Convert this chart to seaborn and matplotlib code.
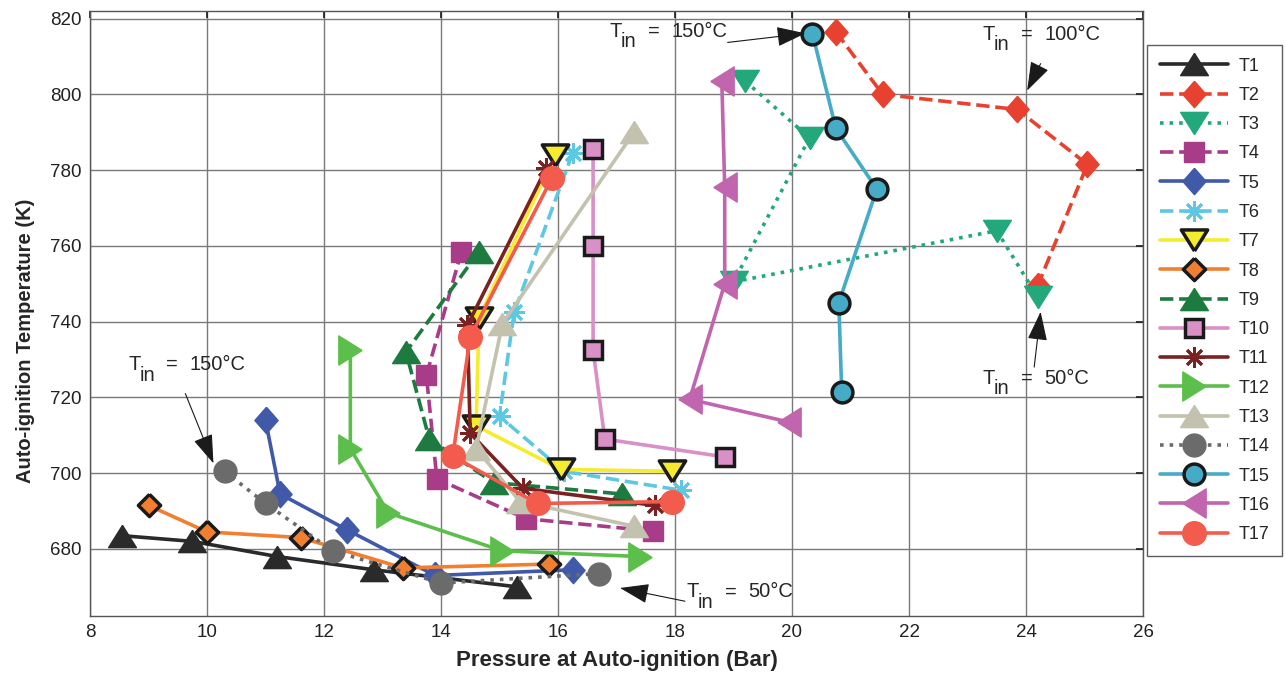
import matplotlib
matplotlib.use('Agg')
import matplotlib.pyplot as plt
import seaborn as sns

# pressure at auto-ignition (bar) / auto-ignition temperature (K) for each test
labels = ['T1', 'T2', 'T3', 'T4', 'T5', 'T6', 'T7', 'T8', 'T9',
          'T10', 'T11', 'T12', 'T13', 'T14', 'T15', 'T16', 'T17']

p1 = [8.55, 9.75, 11.2, 12.85, 15.3]
k1 = [683.5, 682, 678, 674.5, 670]
p2 = [20.75, 21.55, 23.85, 25.05, 24.2]
k2 = [816.5, 800, 796, 781.5, 749.5]
p3 = [19.2, 20.3, 19.0, 23.5, 24.2]
k3 = [803.5, 788.5, 750.5, 764, 746.5]
p4 = [14.35, 13.75, 13.93, 15.45, 17.63]
k4 = [758.5, 725.8, 698.5, 688, 684.7]
p5 = [11.0, 11.25, 12.4, 13.9, 16.25]
k5 = [714, 694.5, 685, 673, 674.5]
p6 = [16.25, 15.25, 15.0, 16.1, 18.1]
k6 = [784.5, 742.5, 715, 700.5, 695.5]
p7 = [15.95, 14.65, 14.6, 16.05, 17.95]
k7 = [784, 741, 712.5, 701, 700.5]
p8 = [9.0, 10.0, 11.6, 13.35, 15.85]
k8 = [691.5, 684.5, 683, 675, 676]
p9 = [14.65, 13.4, 13.8, 14.9, 17.1]
k9 = [758.5, 732, 709, 697.5, 694.5]
p10 = [16.6, 16.6, 16.6, 16.8, 18.85]
k10 = [785.5, 760, 732.5, 709, 704.3]
p11 = [15.8, 14.45, 14.5, 15.4, 17.65]
k11 = [780.5, 739, 710.5, 696, 691.5]
p12 = [12.45, 12.45, 13.1, 15.05, 17.4]
k12 = [732.5, 706.5, 689.5, 679.5, 678]
p13 = [17.3, 15.05, 14.6, 15.35, 17.3]
k13 = [790, 739.5, 706.5, 692.5, 686]
p14 = [10.3, 11.0, 12.15, 14.0, 16.7]
k14 = [700.5, 692, 679.5, 671, 673.5]
p15 = [20.35, 20.75, 21.45, 20.8, 20.85]
k15 = [816, 791, 775, 745, 721.5]
p16 = [18.8, 18.85, 18.85, 18.25, 19.95]
k16 = [803.5, 775.5, 750, 719.5, 713.5]
p17 = [15.9, 14.5, 14.2, 15.65, 17.95]
k17 = [778, 736, 704.5, 692, 692.5]

pressures = [p1, p2, p3, p4, p5, p6, p7, p8, p9, p10, p11, p12, p13, p14, p15, p16, p17]
temps = [k1, k2, k3, k4, k5, k6, k7, k8, k9, k10, k11, k12, k13, k14, k15, k16, k17]

# matlab-like wide triangles and diamonds
tri_up = [(0, 0.8), (-1, -0.8), (1, -0.8), (0, 0.8)]
tri_dn = [(0, -0.8), (-1, 0.8), (1, 0.8), (0, -0.8)]
tri_r = [(0.8, 0), (-0.8, 1), (-0.8, -1), (0.8, 0)]
tri_l = [(-0.8, 0), (0.8, 1), (0.8, -1), (-0.8, 0)]
diam = [(0, 1), (0.88, 0), (0, -1), (-0.88, 0), (0, 1)]
diam_sq = [(0, 1), (1, 0), (0, -1), (-1, 0), (0, 1)]
ast = (8, 2, 0)

# marker, colour, linestyle, edge colour, marker size
styles = [
    (tri_up, '#2a2a2a', '-', None, 20),
    (diam, '#e9412f', '--', None, 19),
    (tri_dn, '#22a87b', ':', None, 20),
    ('s', '#a83c88', '--', None, 14.5),
    (diam, '#4059a9', '-', None, 19),
    (ast, '#5ec8e2', '--', None, 15),
    (tri_dn, '#f5ec2d', '-', 'k', 19),
    (diam_sq, '#f27f30', '-', 'k', 16),
    (tri_up, '#1e7b40', '--', None, 20),
    ('s', '#d990c7', '-', 'k', 13),
    (ast, '#7a2222', '-', None, 15),
    (tri_r, '#5dbf4b', '-', None, 21),
    (tri_up, '#c3c2ae', '-', None, 20),
    ('o', '#6b6b6b', ':', None, 16.5),
    ('o', '#46abc6', '-', 'k', 15),
    (tri_l, '#c165ae', '-', None, 21),
    ('o', '#f35b4c', '-', None, 17),
]

sns.set_theme(style='whitegrid')
plt.rcParams['font.family'] = ['Liberation Sans', 'DejaVu Sans']

fig, ax = plt.subplots(figsize=(12.86, 6.73), dpi=100)
fig.subplots_adjust(left=90/1286, right=1143/1286, bottom=57/673, top=662/673)

for lab, px, tk, (mk, col, ls, ec, ms) in zip(labels, pressures, temps, styles):
    edge = ec if ec else col
    mew = 2.5 if ec else (2.0 if mk == ast else 1)
    sns.lineplot(x=px, y=tk, ax=ax, sort=False, estimator=None, color=col,
                 linestyle=ls, linewidth=2.6, marker=mk, markersize=ms,
                 markerfacecolor=col, markeredgecolor=edge, markeredgewidth=mew,
                 label=lab)

ax.set_xlim(8, 26)
ax.set_ylim(662.3, 822)
ax.set_xticks(range(8, 27, 2))
ax.set_yticks(range(680, 821, 20))
ax.grid(True, color='#7a7a7a', linewidth=1)
ax.set_axisbelow(True)
ax.tick_params(direction='in', length=5, width=1.2, color='k', top=True, right=True,
               labelsize=13.5, labelcolor='#222222', pad=6)
for sp in ax.spines.values():
    sp.set_color('#555555')
    sp.set_linewidth(1)

ax.set_xlabel('Pressure at Auto-ignition (Bar)', fontsize=16, fontweight='bold', labelpad=6)
ax.set_ylabel('Auto-ignition Temperature (K)', fontsize=14.5, fontweight='bold')
ax.yaxis.set_label_coords(-0.052, 0.455)

arrow = dict(arrowstyle='-|>,head_length=0.7,head_width=0.24', color='k', lw=0.8,
             mutation_scale=26, shrinkA=0, shrinkB=0)


def tin_label(x, y, value):
    # T with full-size "in" subscript, as in the original figure
    ax.text(x, y, 'T', fontsize=14.5, va='baseline')
    ax.annotate('in', xy=(x, y), xytext=(8, -7.5), textcoords='offset points',
                fontsize=14.5, va='baseline')
    ax.annotate('=', xy=(x, y), xytext=(27.5, 0), textcoords='offset points',
                fontsize=14.5, va='baseline')
    ax.annotate(value, xy=(x, y), xytext=(44.5, 0), textcoords='offset points',
                fontsize=14.5, va='baseline')


tin_label(16.88, 815.2, '150°C')
ax.annotate('', xy=(20.23, 816.1), xytext=(18.9, 813.7), arrowprops=arrow)
tin_label(23.26, 814.4, '100°C')
ax.annotate('', xy=(24.02, 801), xytext=(24.25, 808.1), arrowprops=arrow)
tin_label(23.26, 723.6, '50°C')
ax.annotate('', xy=(24.25, 742.6), xytext=(24.14, 728.0), arrowprops=arrow)
tin_label(8.65, 727.2, '150°C')
ax.annotate('', xy=(10.11, 702.6), xytext=(9.63, 721), arrowprops=arrow)
tin_label(18.2, 667.2, '50°C')
ax.annotate('', xy=(17.06, 669.7), xytext=(18.17, 666.2), arrowprops=arrow)

leg = ax.legend(loc='upper left', bbox_to_anchor=(1147/1286, 1 - 45/673),
                bbox_transform=fig.transFigure, borderaxespad=0, frameon=True,
                fancybox=False, edgecolor='#333333', fontsize=13, handlelength=3.8,
                labelspacing=0.68, borderpad=0.7, handletextpad=0.55)
leg.get_frame().set_linewidth(1)

fig.savefig('out.png', dpi=100, facecolor='white')
